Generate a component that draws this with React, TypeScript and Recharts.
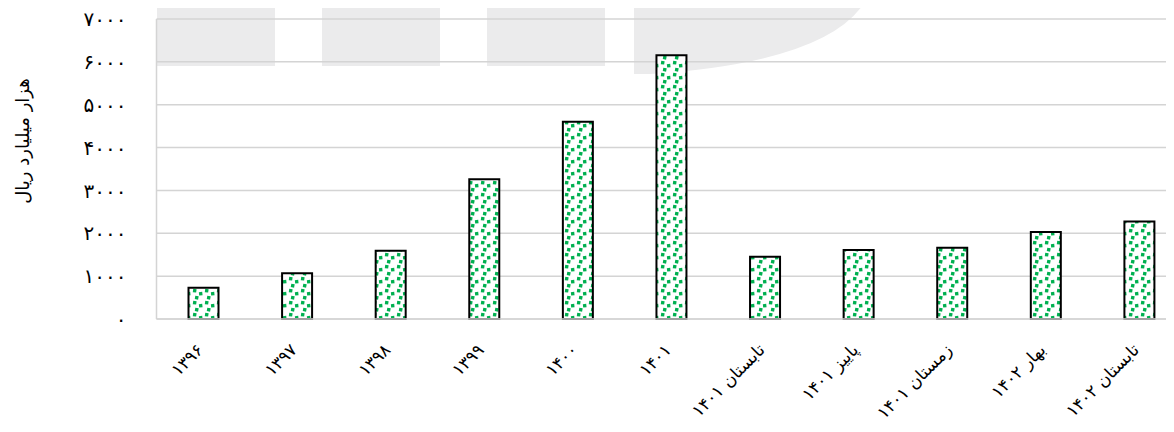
import { Bar, BarChart, CartesianGrid, XAxis, YAxis } from "recharts"

const categories = [
  "۱۳۹۶",
  "۱۳۹۷",
  "۱۳۹۸",
  "۱۳۹۹",
  "۱۴۰۰",
  "۱۴۰۱",
  "تابستان ۱۴۰۱",
  "پاییز ۱۴۰۱",
  "زمستان ۱۴۰۱",
  "بهار ۱۴۰۲",
  "تابستان ۱۴۰۲",
]

const values = [730, 1070, 1590, 3260, 4605, 6155, 1455, 1610, 1660, 2030, 2275]

const yTicks = [0, 1000, 2000, 3000, 4000, 5000, 6000, 7000]

const yLabel = "هزار میلیارد ریال"

const data = categories.map((name, i) => ({ name, value: values[i] }))

const faDigits = "۰۱۲۳۴۵۶۷۸۹"
const toFa = (n: number) => String(n).replace(/\d/g, (d) => faDigits[Number(d)])

const FONT = "'DejaVu Sans', sans-serif"

function XTick(props: any) {
  const { x, payload } = props
  const ax = x + 1
  const ay = 351
  return (
    <text
      x={ax}
      y={ay}
      textAnchor="end"
      fontSize={17}
      fontFamily={FONT}
      fill="#000"
      transform={`rotate(-45 ${ax} ${ay})`}
    >
      {payload.value}
    </text>
  )
}

function YLabel() {
  return (
    <text
      x={22}
      y={141}
      textAnchor="middle"
      dominantBaseline="central"
      fontSize={18}
      fontFamily={FONT}
      fill="#000"
      transform="rotate(-90 22 141)"
    >
      {yLabel}
    </text>
  )
}

// faint watermark blocks behind the plot (logo of the source)
function Watermark() {
  return (
    <svg width={1174} height={432} style={{ position: "absolute", left: 0, top: 0 }}>
      <g fill="#ebebec">
        <rect x={157} y={0} width={118} height={66} />
        <rect x={322} y={0} width={118} height={66} />
        <rect x={487} y={0} width={118} height={66} />
        <path d="M634,0 L866,0 Q830,62 650,74 L634,74 Z" />
      </g>
    </svg>
  )
}

export default function App() {
  return (
    <div
      style={{
        position: "relative",
        width: 1174,
        height: 432,
        margin: -8,
        overflow: "hidden",
        background: "#fff",
        fontFamily: FONT,
      }}
    >
      <Watermark />
      <div style={{ position: "absolute", left: 0, top: 0 }}>
        <BarChart
          width={1190}
          height={432}
          data={data}
          margin={{ top: 19, right: 4, left: 0, bottom: 0 }}
        >
          <defs>
            <pattern id="greenDots" width="12" height="12" patternUnits="userSpaceOnUse">
              <rect width="12" height="12" fill="#fff" />
              <rect x="1" y="1" width="3.4" height="3.4" fill="#00b050" transform="rotate(8 2.7 2.7)" />
              <rect x="7" y="4" width="3.4" height="3.4" fill="#00b050" transform="rotate(-6 8.7 5.7)" />
              <rect x="3" y="8" width="3.4" height="3.4" fill="#00b050" transform="rotate(10 4.7 9.7)" />
            </pattern>
          </defs>
          <CartesianGrid vertical={false} stroke="#d4d4d4" strokeWidth={1.5} />
          <XAxis
            dataKey="name"
            height={113}
            interval={0}
            tickLine={false}
            axisLine={{ stroke: "#d4d4d4", strokeWidth: 1.5 }}
            tick={<XTick />}
          />
          <YAxis
            width={156.5}
            domain={[0, 7000]}
            ticks={yTicks}
            interval={0}
            tickLine={false}
            tickSize={0}
            tickMargin={30}
            axisLine={{ stroke: "#d4d4d4", strokeWidth: 1.5 }}
            tickFormatter={(v: number) => toFa(v)}
            tick={{ fill: "#000", fontSize: 20, fontFamily: FONT }}
            label={<YLabel />}
          />
          <Bar
            dataKey="value"
            barSize={30}
            fill="url(#greenDots)"
            stroke="#000"
            strokeWidth={2}
            isAnimationActive={false}
          />
        </BarChart>
      </div>
    </div>
  )
}
